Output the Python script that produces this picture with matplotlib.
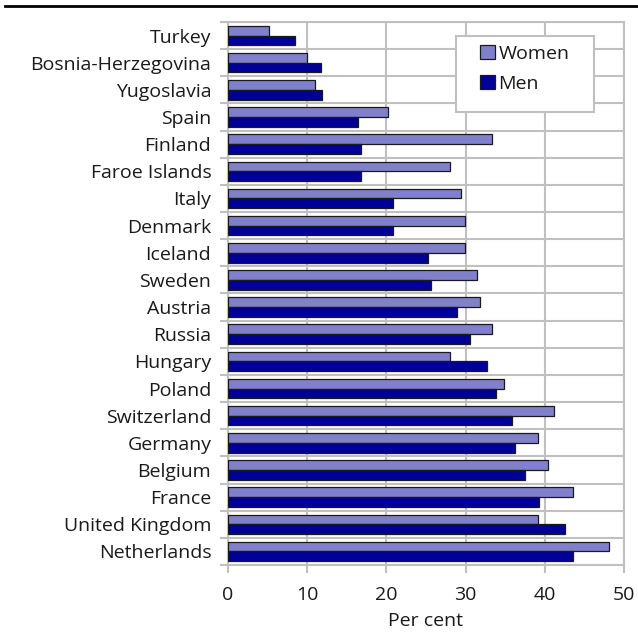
import matplotlib
matplotlib.use("Agg")
import matplotlib.pyplot as plt
import numpy as np
from matplotlib.lines import Line2D
from matplotlib.patches import Rectangle

plt.rcParams['font.family'] = ['Open Sans', 'DejaVu Sans']

# ── Data: share (per cent), top row first ─────────────────────────────────────
countries = ["Turkey", "Bosnia-Herzegovina", "Yugoslavia", "Spain", "Finland",
             "Faroe Islands", "Italy", "Denmark", "Iceland", "Sweden", "Austria",
             "Russia", "Hungary", "Poland", "Switzerland", "Germany", "Belgium",
             "France", "United Kingdom", "Netherlands"]
women = [5.2, 10.0, 11.0, 20.2, 33.3, 28.0, 29.4, 29.9, 29.9, 31.5, 31.8,
         33.3, 28.0, 34.8, 41.1, 39.1, 40.4, 43.6, 39.1, 48.1]
men = [8.4, 11.8, 11.9, 16.4, 16.8, 16.8, 20.8, 20.8, 25.2, 25.6, 28.9,
       30.6, 32.7, 33.8, 35.9, 36.3, 37.5, 39.3, 42.6, 43.5]
x_ticks = [0, 10, 20, 30, 40, 50]

WOMEN_COL = '#8080CC'
MEN_COL = '#000099'
GRID_COL = '#C0C0C0'
TXT_COL = '#1a1a1a'
FS = 14

W, H = 638, 635
fig = plt.figure(figsize=(W / 100, H / 100), dpi=100)
ax = fig.add_axes([228 / W, 1 - 565 / H, 396 / W, 543 / H])

y = np.arange(len(countries))
bh = 0.36
ax.barh(y - bh / 2, women, height=bh, color=WOMEN_COL, edgecolor=TXT_COL,
        linewidth=0.9, label='Women', zorder=3)
ax.barh(y + bh / 2, men, height=bh, color=MEN_COL, edgecolor=TXT_COL,
        linewidth=0.9, label='Men', zorder=3)

ax.set_xlim(0, 50)
ax.set_ylim(len(countries) - 0.5, -0.5)

# major ticks on category boundaries (grid), minor ticks carry the labels
ax.set_yticks(np.arange(len(countries) + 1) - 0.5)
ax.set_yticklabels([])
ax.set_yticks(y, minor=True)
ax.set_yticklabels(countries, minor=True)
ax.tick_params(axis='y', which='major', length=6, width=1.5, color=GRID_COL)
ax.tick_params(axis='y', which='minor', length=0, pad=12, labelsize=FS,
               labelcolor=TXT_COL)

ax.set_xticks(x_ticks)
ax.tick_params(axis='x', which='major', length=6, width=1.5, color=GRID_COL,
               labelsize=FS, pad=9, labelcolor=TXT_COL)
ax.set_xlabel('Per cent', fontsize=FS, labelpad=6, color=TXT_COL)

ax.grid(True, which='major', color=GRID_COL, linewidth=1.5, zorder=0)
ax.set_axisbelow(True)
for s in ax.spines.values():
    s.set_color(GRID_COL)
    s.set_linewidth(1.5)

# legend box drawn separately so the padding can be wider than tall
fig.add_artist(Rectangle((456 / W, 1 - 112 / H), 138 / W, 76 / H,
                         transform=fig.transFigure, facecolor='white',
                         edgecolor=GRID_COL, linewidth=1.5, zorder=2))
handles, labels = ax.get_legend_handles_labels()
leg = fig.legend(handles, labels, loc='upper left',
                 bbox_to_anchor=(480 / W, 1 - 45 / H),
                 bbox_transform=fig.transFigure, borderaxespad=0, borderpad=0,
                 fontsize=FS, frameon=False, handlelength=0.75,
                 handleheight=0.75, handletextpad=0.2, labelspacing=0.6)
leg.set_zorder(3)
for patch in leg.get_patches():
    patch.set_edgecolor(TXT_COL)
for t in leg.get_texts():
    t.set_color(TXT_COL)

# rule across the top
fig.add_artist(Line2D([5 / W, 1], [1 - 6 / H, 1 - 6 / H], color='black',
                      linewidth=2, transform=fig.transFigure))

fig.savefig('out.png', dpi=100)
